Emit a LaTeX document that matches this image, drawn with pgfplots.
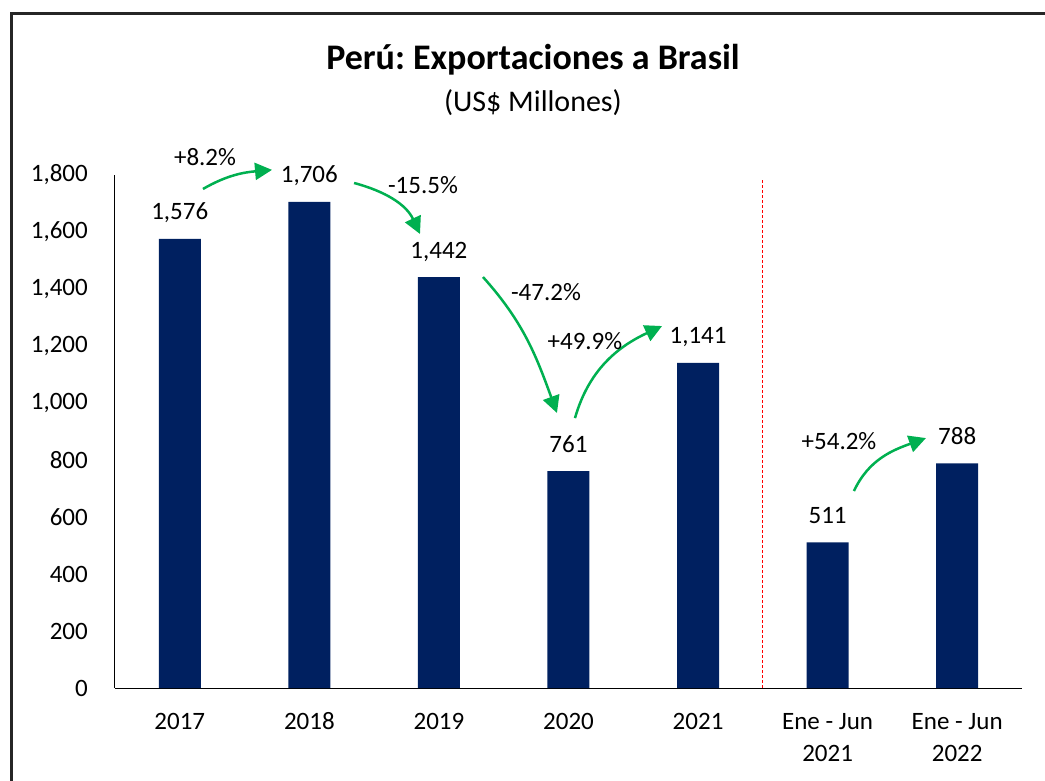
\documentclass[border=0pt]{standalone}
\usepackage{fontspec}
\setmainfont{Carlito}
\usepackage{pgfplots}
\pgfplotsset{compat=1.18}
\usetikzlibrary{arrows.meta}
\definecolor{navy}{HTML}{002060}
\definecolor{xgreen}{HTML}{00B050}
\newcommand{\tfont}{\fontsize{25}{32}\selectfont}
\frenchspacing
\begin{document}
\begin{tikzpicture}[x=1pt,y=1pt]
\useasboundingbox (-115,-92) rectangle (930,688);
\draw[line width=3pt, black!85] (-103,-100) -- (-103,674) -- (940,674);
\begin{axis}[
  at={(0,0)}, anchor=south west,
  scale only axis, width=907pt, height=513pt,
  xmin=-0.5, xmax=6.5, ymin=0, ymax=1800,
  axis x line=bottom, axis y line=left,
  axis line style={-, line width=1pt, black},
  ytick={0,200,...,1800},
  xtick={0,...,6},
  xticklabels={{\strut 2017},{\strut 2018},{\strut 2019},{\strut 2020},{\strut 2021},{\strut Ene - Jun\\\strut 2021},{\strut Ene - Jun\\\strut 2022}},
  xticklabel style={align=center, font=\tfont, anchor=north, inner sep=0pt, yshift=-19pt},
  yticklabel style={font=\tfont, anchor=east, inner sep=0pt, xshift=-27pt},
  major tick length=0pt,
  /pgf/number format/1000 sep={,},
  /pgf/number format/assume math mode=true,
  ybar, bar width=42pt,
  nodes near coords,
  nodes near coords style={font=\tfont, anchor=base, yshift=19pt, inner sep=0pt},
  clip=false,
]
\addplot[fill=navy, draw=none] coordinates {(0,1576) (1,1706) (2,1442) (3,761) (4,1141) (5,511) (6,788)};
\draw[red, line width=1pt, dash pattern=on 3pt off 2pt] (axis cs:4.5,0) -- (axis cs:4.5,1789);
\begin{scope}[xgreen, line width=2.5pt, -{Triangle[length=17pt,width=17pt]}]
\draw (axis cs:0.179,1751) to[out=30,in=185] (axis cs:0.712,1818);
\draw (axis cs:1.345,1772) to[out=-15,in=115] (axis cs:1.854,1593);
\draw (axis cs:2.340,1442) to[out=-48,in=110] (axis cs:2.911,965);
\draw (axis cs:3.050,947) to[out=74,in=205] (axis cs:3.722,1270);
\draw (axis cs:5.203,691) to[out=65,in=200] (axis cs:5.759,877);
\end{scope}
\node[font=\tfont] at (axis cs:0.195,1863) {+8.2\%};
\node[font=\tfont] at (axis cs:1.877,1765) {-15.5\%};
\node[font=\tfont] at (axis cs:2.826,1389) {-47.2\%};
\node[font=\tfont] at (axis cs:3.127,1218) {+49.9\%};
\node[font=\tfont] at (axis cs:5.088,867) {+54.2\%};
\end{axis}
\node[font=\bfseries\fontsize{36}{42}\selectfont] at (418,628) {Perú: Exportaciones a Brasil};
\node[font=\fontsize{30}{36}\selectfont] at (418,585) {(US\$ Millones)};
\end{tikzpicture}
\end{document}
